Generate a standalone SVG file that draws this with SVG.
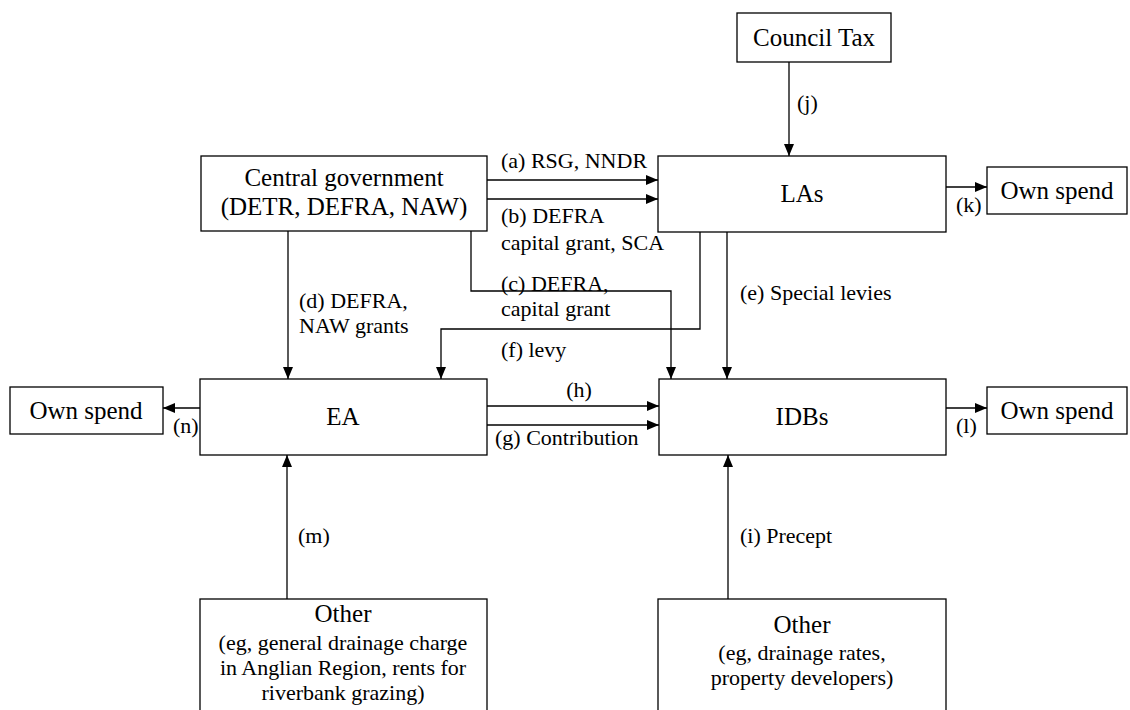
<svg xmlns="http://www.w3.org/2000/svg" width="1130" height="710" viewBox="0 0 1130 710">
<style>
.box{fill:#fff;stroke:#000;stroke-width:1.3}
.t{font-family:"Liberation Serif","Times New Roman",serif;font-size:25px;fill:#000;text-anchor:middle}
.s{font-family:"Liberation Serif","Times New Roman",serif;font-size:22px;fill:#000;text-anchor:middle}
.l{font-family:"Liberation Serif","Times New Roman",serif;font-size:22px;fill:#000}
.c{fill:none;stroke:#000;stroke-width:1.3;marker-end:url(#ah)}
</style>
<defs>
<marker id="ah" markerUnits="userSpaceOnUse" markerWidth="13" markerHeight="11" refX="12" refY="5" orient="auto">
<path d="M0,0 L12,5 L0,10 z" fill="#000"/>
</marker>
</defs>
<rect width="1130" height="710" fill="#fff"/>
<g id="connectors">
<path class="c" d="M789,62 V156"/>
<path class="c" d="M487,180 H658"/>
<path class="c" d="M487,199 H658"/>
<path class="c" d="M471,231 V291 H671 V379"/>
<path class="c" d="M288,231 V379"/>
<path class="c" d="M727,232 V379"/>
<path class="c" d="M700,232 V329 H441 V379"/>
<path class="c" d="M487,406 H659"/>
<path class="c" d="M487,425 H659"/>
<path class="c" d="M946,187 H987"/>
<path class="c" d="M946,408 H987"/>
<path class="c" d="M200,408 H163"/>
<path class="c" d="M287,599 V455"/>
<path class="c" d="M728,599 V455"/>
</g>
<g id="labels">
<text class="l" x="501" y="168">(a) RSG, NNDR</text>
<text class="l" x="501" y="223">(b) DEFRA</text>
<text class="l" x="501" y="250">capital grant, SCA</text>
<text class="l" x="501" y="291">(c) DEFRA,</text>
<text class="l" x="501" y="316">capital grant</text>
<text class="l" x="299" y="308">(d) DEFRA,</text>
<text class="l" x="299" y="333">NAW grants</text>
<text class="l" x="740" y="300">(e) Special levies</text>
<text class="l" x="501" y="357">(f) levy</text>
<text class="s" x="579" y="397">(h)</text>
<text class="l" x="495" y="445">(g) Contribution</text>
<text class="l" x="797" y="110">(j)</text>
<text class="l" x="956" y="212">(k)</text>
<text class="l" x="956" y="433">(l)</text>
<text class="l" x="173" y="433">(n)</text>
<text class="l" x="298" y="543">(m)</text>
<text class="l" x="740" y="543">(i) Precept</text>
</g>
<g id="council-tax">
<rect class="box" x="737" y="13" width="154" height="49"/>
<text class="t" x="814" y="46">Council Tax</text>
</g>
<g id="central-government">
<rect class="box" x="201" y="156" width="286" height="75"/>
<text class="t" x="344" y="186">Central government</text>
<text class="t" x="344" y="215">(DETR, DEFRA, NAW)</text>
</g>
<g id="las">
<rect class="box" x="658" y="156" width="288" height="76"/>
<text class="t" x="802" y="202">LAs</text>
</g>
<g id="own-spend-k">
<rect class="box" x="987" y="167" width="140" height="47"/>
<text class="t" x="1057" y="199">Own spend</text>
</g>
<g id="ea">
<rect class="box" x="200" y="379" width="287" height="76"/>
<text class="t" x="343" y="425">EA</text>
</g>
<g id="own-spend-n">
<rect class="box" x="10" y="387" width="153" height="47"/>
<text class="t" x="86" y="419">Own spend</text>
</g>
<g id="idbs">
<rect class="box" x="659" y="379" width="287" height="76"/>
<text class="t" x="802" y="425">IDBs</text>
</g>
<g id="own-spend-l">
<rect class="box" x="987" y="387" width="140" height="47"/>
<text class="t" x="1057" y="419">Own spend</text>
</g>
<g id="other-ea">
<rect class="box" x="200" y="599" width="287" height="120"/>
<text class="t" x="343" y="622">Other</text>
<text class="s" x="343" y="650">(eg, general drainage charge</text>
<text class="s" x="343" y="675">in Anglian Region, rents for</text>
<text class="s" x="343" y="700">riverbank grazing)</text>
</g>
<g id="other-idbs">
<rect class="box" x="658" y="599" width="288" height="120"/>
<text class="t" x="802" y="633">Other</text>
<text class="s" x="802" y="660">(eg, drainage rates,</text>
<text class="s" x="802" y="685">property developers)</text>
</g>
</svg>
